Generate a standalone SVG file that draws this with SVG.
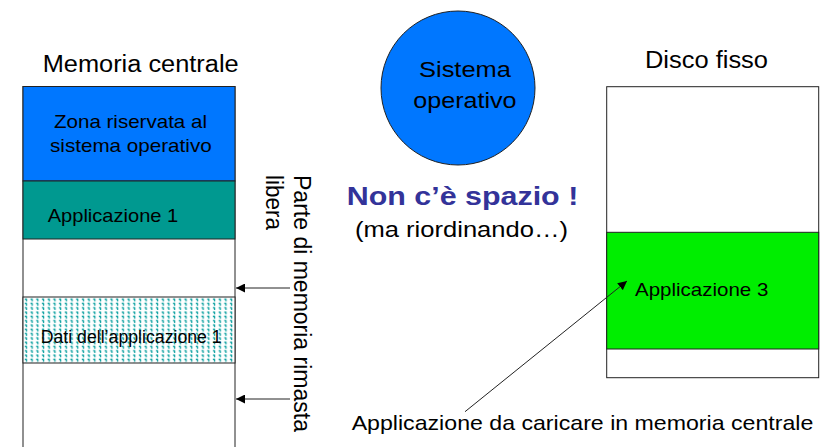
<svg xmlns="http://www.w3.org/2000/svg" width="829" height="447" viewBox="0 0 829 447">
<style>
text{font-family:"Liberation Sans",Arial,sans-serif;fill:#000}
.box{stroke:#222;stroke-width:1}
.conn{stroke:#222;stroke-width:1;fill:none}
</style>
<defs>
<marker id="ah" viewBox="0 0 10 10" refX="10" refY="5" markerWidth="9" markerHeight="9" markerUnits="userSpaceOnUse" orient="auto">
<path d="M0,0 L10,5 L0,10 z" fill="#000"/>
</marker>
<pattern id="dots" width="5.7" height="4.3" patternUnits="userSpaceOnUse" x="24" y="298">
<rect width="5.7" height="4.3" fill="#fff"/>
<rect x="0.8" y="0.5" width="2.2" height="1.4" fill="#12a3a3"/>
<rect x="1.8" y="1.5" width="1.3" height="1.9" fill="#12a3a3"/>
</pattern>
</defs>
<rect width="829" height="447" fill="#fff"/>

<g id="memoria-centrale">
<text x="42.7" y="71.7" font-size="23" textLength="196" lengthAdjust="spacingAndGlyphs">Memoria centrale</text>
<rect class="box" x="23" y="86.5" width="212" height="370" fill="#fff"/>
</g>
<g id="zona-riservata">
<rect class="box" x="23" y="86.5" width="212" height="94.5" fill="#0077FF"/>
<text x="54" y="128" font-size="18.5" textLength="153" lengthAdjust="spacingAndGlyphs">Zona riservata al</text>
<text x="50" y="152" font-size="18.5" textLength="161.7" lengthAdjust="spacingAndGlyphs">sistema operativo</text>
</g>
<g id="applicazione-1">
<rect class="box" x="23" y="181" width="212" height="58" fill="#009990"/>
<text x="47.7" y="221.7" font-size="18.5" textLength="130.6" lengthAdjust="spacingAndGlyphs">Applicazione 1</text>
</g>
<g id="dati-applicazione-1">
<rect class="box" x="23" y="297" width="212" height="66" fill="url(#dots)"/>
<text x="40.7" y="343" font-size="17.5" textLength="181" lengthAdjust="spacingAndGlyphs">Dati dell’applicazione 1</text>
</g>

<g id="parte-libera">
<text transform="translate(293.5,175) rotate(90)" font-size="23" textLength="257" lengthAdjust="spacingAndGlyphs">Parte di memoria rimasta</text>
<text transform="translate(266,175) rotate(90)" font-size="23" textLength="55" lengthAdjust="spacingAndGlyphs">libera</text>
</g>

<g id="sistema-operativo">
<circle cx="458" cy="88" r="77" fill="#0077FF" stroke="#222" stroke-width="1"/>
<text x="419" y="77" font-size="22" textLength="92" lengthAdjust="spacingAndGlyphs">Sistema</text>
<text x="413.3" y="108.3" font-size="22" textLength="103.3" lengthAdjust="spacingAndGlyphs">operativo</text>
</g>

<g id="non-spazio">
<text x="346.7" y="205" font-size="26" font-weight="bold" style="fill:#333399" textLength="231.6" lengthAdjust="spacingAndGlyphs">Non c’è spazio !</text>
<text x="355" y="237.3" font-size="22" textLength="213" lengthAdjust="spacingAndGlyphs">(ma riordinando…)</text>
</g>

<g id="disco-fisso">
<text x="645" y="68.3" font-size="23" textLength="123" lengthAdjust="spacingAndGlyphs">Disco fisso</text>
<rect class="box" x="606.7" y="86.7" width="212" height="291" fill="#fff"/>
</g>
<g id="applicazione-3">
<rect class="box" x="606.7" y="232.3" width="212" height="116.7" fill="#00EE00"/>
<text x="635" y="296" font-size="18.5" textLength="133.3" lengthAdjust="spacingAndGlyphs">Applicazione 3</text>
</g>

<g id="label-caricare">
<text x="351.7" y="430" font-size="21" textLength="461.6" lengthAdjust="spacingAndGlyphs">Applicazione da caricare in memoria centrale</text>
</g>

<g id="connectors">
<line class="conn" x1="290" y1="288" x2="236" y2="288" marker-end="url(#ah)"/>
<line class="conn" x1="290" y1="399" x2="236" y2="399" marker-end="url(#ah)"/>
<line class="conn" x1="465" y1="411.7" x2="627" y2="281" marker-end="url(#ah)"/>
</g>
</svg>
